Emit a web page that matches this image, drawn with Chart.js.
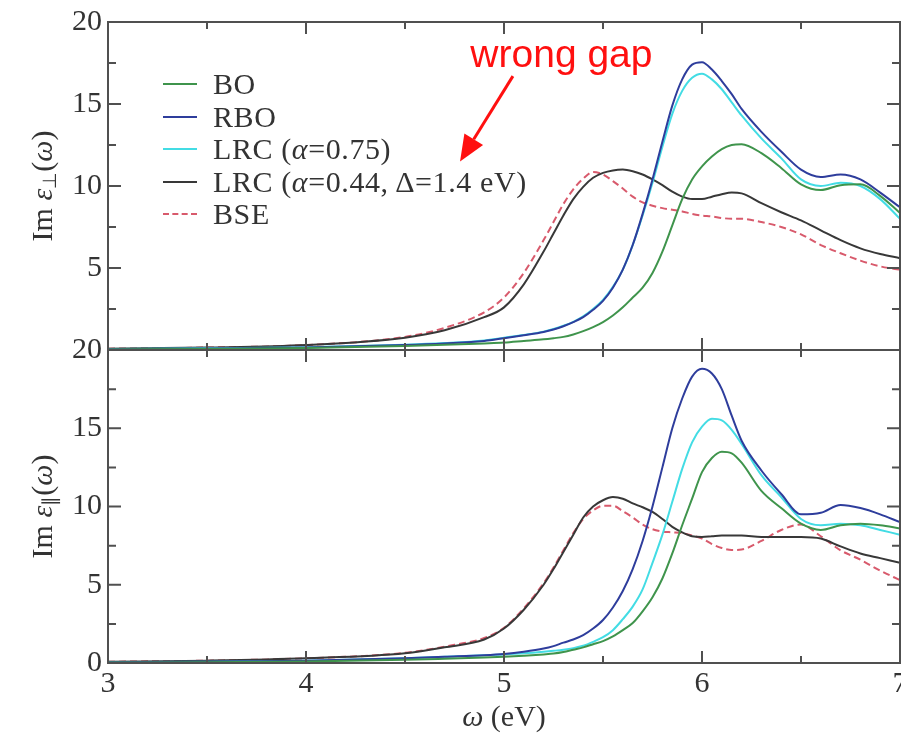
<!DOCTYPE html>
<html>
<head>
<meta charset="utf-8">
<script src="https://cdn.jsdelivr.net/npm/chart.js@4.4.0/dist/chart.umd.min.js"></script>
<style>
  html, body { margin: 0; padding: 0; background: #fff; }
  #wrap { position: relative; width: 901px; height: 736px; overflow: hidden;
          font-family: "Liberation Serif", "Times New Roman", serif; }
  canvas { position: absolute; left: 0; }
  #topChart { top: 0; z-index: 2; }
  #botChart { top: 322px; z-index: 1; }
  #legend { position: absolute; left: 163px; top: 68px; z-index: 3; color: #333;
            font-size: 30px; line-height: 32px; letter-spacing: 0.6px; }
  #legend .row { display: flex; align-items: center; height: 32.5px; white-space: nowrap; }
  #legend .swatch { width: 34px; height: 0; margin-right: 16px; border-top: 2px solid; }
</style>
</head>
<body>
<div id="wrap">
  <canvas id="topChart" width="901" height="351"></canvas>
  <canvas id="botChart" width="901" height="414"></canvas>
  <div id="legend"></div>
</div>
<script>
// photon energy grid (eV)
const omega = [3.0, 3.5, 4.0, 4.5, 4.7, 4.9, 5.0, 5.1,
  5.2, 5.25, 5.3, 5.35, 5.4, 5.45, 5.5, 5.55, 5.6, 5.65, 5.7, 5.75, 5.8, 5.85, 5.9, 5.95,
  6.0, 6.05, 6.1, 6.15, 6.2, 6.3, 6.4, 6.5, 6.6, 6.7, 6.8, 6.9, 7.0];

// Im eps perpendicular (top panel)
const perpBO   = [0.03, 0.06, 0.12, 0.25, 0.32, 0.4, 0.45, 0.55,
  0.65, 0.72, 0.8, 0.95, 1.15, 1.4, 1.7, 2.1, 2.6, 3.2, 3.8, 4.7, 6.0, 7.6, 9.2, 10.4,
  11.2, 11.8, 12.25, 12.5, 12.55, 12.0, 11.1, 10.1, 9.75, 10.05, 10.1, 9.4, 8.35];
const perpRBO  = [0.05, 0.08, 0.15, 0.3, 0.4, 0.55, 0.72, 0.9,
  1.1, 1.25, 1.45, 1.7, 2.0, 2.45, 3.0, 3.8, 4.9, 6.4, 8.3, 10.4, 12.7, 14.9, 16.5, 17.4,
  17.55, 17.1, 16.4, 15.6, 14.7, 13.3, 12.1, 11.0, 10.55, 10.7, 10.4, 9.6, 8.7];
const perpLRC1 = [0.06, 0.1, 0.17, 0.32, 0.42, 0.58, 0.75, 0.92,
  1.12, 1.28, 1.48, 1.72, 2.05, 2.5, 3.05, 3.85, 4.9, 6.4, 8.2, 10.2, 12.4, 14.4, 15.8, 16.6,
  16.85, 16.5, 15.9, 15.1, 14.3, 12.9, 11.7, 10.4, 10.0, 10.2, 10.0, 9.2, 8.0];
const perpLRC2 = [0.08, 0.15, 0.3, 0.75, 1.2, 2.0, 2.6, 4.0,
  6.0, 7.1, 8.2, 9.2, 9.95, 10.5, 10.8, 10.95, 11.0, 10.9, 10.7, 10.4, 10.05, 9.65, 9.35, 9.2,
  9.2, 9.35, 9.5, 9.6, 9.55, 8.95, 8.4, 7.9, 7.3, 6.7, 6.2, 5.85, 5.6];
const perpBSE  = [0.08, 0.15, 0.3, 0.8, 1.35, 2.3, 3.2, 4.7,
  6.7, 7.8, 8.9, 9.8, 10.45, 10.85, 10.7, 10.3, 9.85, 9.35, 9.0, 8.8, 8.65, 8.55, 8.45, 8.3,
  8.2, 8.15, 8.05, 8.0, 8.0, 7.8, 7.5, 7.05, 6.4, 5.9, 5.45, 5.1, 4.9];

// Im eps parallel (bottom panel)
const parBO   = [0.03, 0.05, 0.1, 0.2, 0.27, 0.35, 0.4, 0.47,
  0.55, 0.6, 0.7, 0.85, 1.0, 1.2, 1.4, 1.7, 2.1, 2.55, 3.3, 4.2, 5.4, 7.0, 8.8, 10.5,
  12.2, 13.1, 13.5, 13.4, 12.8, 11.0, 9.9, 8.9, 8.5, 8.8, 8.9, 8.8, 8.6];
const parRBO  = [0.05, 0.08, 0.15, 0.3, 0.4, 0.5, 0.58, 0.72,
  0.92, 1.08, 1.3, 1.5, 1.78, 2.2, 2.75, 3.55, 4.6, 6.0, 7.8, 10.0, 12.5, 15.0, 16.9, 18.3,
  18.8, 18.5, 17.5, 15.8, 14.2, 12.3, 10.8, 9.5, 9.6, 10.1, 9.9, 9.5, 9.0];
const parLRC1 = [0.05, 0.08, 0.15, 0.3, 0.4, 0.5, 0.55, 0.62,
  0.72, 0.78, 0.85, 0.95, 1.1, 1.35, 1.65, 2.1, 2.8, 3.6, 4.7, 6.4, 8.2, 10.3, 12.4, 14.1,
  15.1, 15.6, 15.5, 14.9, 14.0, 12.0, 10.6, 9.2, 8.8, 8.9, 8.8, 8.5, 8.2];
const parLRC2 = [0.08, 0.15, 0.3, 0.62, 1.0, 1.5, 2.2, 3.4,
  5.0, 6.0, 7.1, 8.2, 9.3, 10.0, 10.4, 10.6, 10.5, 10.2, 9.95, 9.65, 9.2, 8.7, 8.35, 8.1,
  8.05, 8.1, 8.15, 8.15, 8.15, 8.05, 8.05, 8.05, 7.95, 7.45, 7.0, 6.7, 6.4];
const parBSE  = [0.08, 0.15, 0.3, 0.65, 1.05, 1.6, 2.25, 3.5,
  5.1, 6.1, 7.2, 8.3, 9.2, 9.75, 10.05, 10.05, 9.7, 9.3, 8.85, 8.55, 8.4, 8.35, 8.3, 8.15,
  7.95, 7.6, 7.35, 7.22, 7.25, 7.8, 8.5, 8.85, 8.1, 7.2, 6.6, 5.9, 5.3];

const seriesNames  = ['BO', 'RBO', 'LRC (α=0.75)', 'LRC (α=0.44, Δ=1.4 eV)', 'BSE'];
const seriesHtml   = ['BO', 'RBO', 'LRC (<i>α</i>=0.75)', 'LRC (<i>α</i>=0.44, Δ=1.4 eV)', 'BSE'];
const seriesColors = ['#3f944c', '#2e3d9c', '#43dce4', '#383838', '#d85a6c'];
const seriesDashed = [false, false, false, false, true];

const xTicks = [3, 4, 5, 6, 7];
const yTicks = [0, 5, 10, 15, 20];

const serif = '"Liberation Serif", "Times New Roman", serif';
const tickFont = { family: serif, size: 30 };
const ink = '#333';

function makeDatasets(arrays) {
  return arrays.map((arr, i) => ({
    label: seriesNames[i],
    data: omega.map((w, j) => ({ x: w, y: arr[j] })),
    borderColor: seriesColors[i],
    borderWidth: 2,
    borderDash: seriesDashed[i] ? [7, 4] : [],
    pointRadius: 0,
    fill: false,
    cubicInterpolationMode: 'monotone'
  }));
}

// box frame with inward ticks on all four sides
const framePlugin = {
  id: 'frame',
  afterDraw(chart) {
    const { ctx, chartArea: a, scales: { x, y } } = chart;
    ctx.save();
    ctx.strokeStyle = '#505050';
    ctx.lineWidth = 2;
    ctx.strokeRect(a.left, a.top, a.right - a.left, a.bottom - a.top);
    ctx.beginPath();
    for (let v = xTicks[0]; v <= xTicks[xTicks.length - 1] + 1e-6; v += 0.5) {
      const px = x.getPixelForValue(v);
      const len = Number.isInteger(v) ? 12 : 7;
      ctx.moveTo(px, a.bottom); ctx.lineTo(px, a.bottom - len);
      ctx.moveTo(px, a.top); ctx.lineTo(px, a.top + len);
    }
    for (let v = 0; v <= 20 + 1e-6; v += 2.5) {
      const py = y.getPixelForValue(v);
      const len = v % 5 === 0 ? 13 : 8;
      ctx.moveTo(a.left, py); ctx.lineTo(a.left + len, py);
      ctx.moveTo(a.right, py); ctx.lineTo(a.right - len, py);
    }
    ctx.stroke();
    ctx.restore();
  }
};

// rich text helper: pieces drawn one after another, centred on (0,0)
function drawPieces(ctx, pieces, size) {
  const fontFor = p => (p.italic ? 'italic ' : '') + (p.sub ? size * 0.62 : size) + 'px ' + serif;
  let total = 0;
  pieces.forEach(p => { ctx.font = fontFor(p); total += ctx.measureText(p.t).width; });
  let cx = -total / 2;
  ctx.textBaseline = 'alphabetic';
  ctx.textAlign = 'left';
  pieces.forEach(p => {
    ctx.font = fontFor(p);
    ctx.fillText(p.t, cx, p.sub ? size * 0.45 : size * 0.33);
    cx += ctx.measureText(p.t).width;
  });
}

function yTitlePlugin(sub) {
  return {
    id: 'ytitle',
    afterDraw(chart) {
      const { ctx, chartArea: a } = chart;
      ctx.save();
      ctx.fillStyle = ink;
      ctx.translate(42, (a.top + a.bottom) / 2);
      ctx.rotate(-Math.PI / 2);
      drawPieces(ctx, [{ t: 'Im ' }, { t: 'ε', italic: true }, { t: sub, sub: true },
                       { t: '(' }, { t: 'ω', italic: true }, { t: ')' }], 30);
      ctx.restore();
    }
  };
}

const xTitlePlugin = {
  id: 'xtitle',
  afterDraw(chart) {
    const { ctx, chartArea: a } = chart;
    ctx.save();
    ctx.fillStyle = ink;
    ctx.translate((a.left + a.right) / 2, a.bottom + 53);
    drawPieces(ctx, [{ t: 'ω', italic: true }, { t: ' (eV)' }], 30);
    ctx.restore();
  }
};

// red "wrong gap" note with arrow, placed in data units
const noteText = 'wrong gap';
const notePos = { x: 5.29, y: 17.9 };
const arrowFrom = { x: 5.045, y: 16.7 };
const arrowTo = { x: 4.778, y: 11.5 };
const notePlugin = {
  id: 'note',
  afterDraw(chart) {
    const { ctx, scales: { x, y } } = chart;
    ctx.save();
    ctx.fillStyle = '#ff1010';
    ctx.strokeStyle = '#ff1010';
    ctx.font = '39px "Liberation Sans", Arial, sans-serif';
    ctx.textAlign = 'center';
    ctx.textBaseline = 'middle';
    ctx.fillText(noteText, x.getPixelForValue(notePos.x), y.getPixelForValue(notePos.y));
    const x0 = x.getPixelForValue(arrowFrom.x), y0 = y.getPixelForValue(arrowFrom.y);
    const x1 = x.getPixelForValue(arrowTo.x), y1 = y.getPixelForValue(arrowTo.y);
    const ang = Math.atan2(y1 - y0, x1 - x0);
    const headLen = 26, headW = 11;
    const bx = x1 - headLen * Math.cos(ang), by = y1 - headLen * Math.sin(ang);
    ctx.lineWidth = 3;
    ctx.beginPath(); ctx.moveTo(x0, y0); ctx.lineTo(bx, by); ctx.stroke();
    ctx.beginPath();
    ctx.moveTo(x1, y1);
    ctx.lineTo(bx + headW * Math.sin(ang), by - headW * Math.cos(ang));
    ctx.lineTo(bx - headW * Math.sin(ang), by + headW * Math.cos(ang));
    ctx.closePath(); ctx.fill();
    ctx.restore();
  }
};

function yScale(hideZero) {
  return {
    min: 0, max: 20,
    afterFit(s) { s.width = 108; s.paddingTop = 0; s.paddingBottom = 0; },
    afterBuildTicks(s) { s.ticks = yTicks.map(v => ({ value: v })); },
    grid: { display: false, drawTicks: false },
    border: { display: false },
    ticks: {
      padding: 6, color: ink, font: tickFont,
      callback: v => (hideZero && v === 0) ? '' : v
    }
  };
}

function xScale(show) {
  return {
    type: 'linear', min: 3, max: 7, display: show,
    afterBuildTicks(s) { s.ticks = xTicks.map(v => ({ value: v })); },
    afterFit(s) { if (show) s.height = 73; s.paddingLeft = 0; s.paddingRight = 0; },
    grid: { display: false, drawTicks: false },
    border: { display: false },
    ticks: { padding: 3, color: ink, font: tickFont, maxRotation: 0, autoSkip: false }
  };
}

const baseOptions = (padding, hideZero, showX) => ({
  responsive: false,
  animation: false,
  devicePixelRatio: 1,
  layout: { padding },
  plugins: { legend: { display: false }, tooltip: { enabled: false } },
  scales: { x: xScale(showX), y: yScale(hideZero) }
});

new Chart(document.getElementById('topChart'), {
  type: 'line',
  data: { datasets: makeDatasets([perpBO, perpRBO, perpLRC1, perpLRC2, perpBSE]) },
  options: baseOptions({ top: 22, right: 1, bottom: 1, left: 0 }, true, false),
  plugins: [framePlugin, yTitlePlugin('⊥'), notePlugin]
});

new Chart(document.getElementById('botChart'), {
  type: 'line',
  data: { datasets: makeDatasets([parBO, parRBO, parLRC1, parLRC2, parBSE]) },
  options: baseOptions({ top: 28, right: 1, bottom: 0, left: 0 }, false, true),
  plugins: [framePlugin, yTitlePlugin('∥'), xTitlePlugin]
});

// legend inside the top panel
const legend = document.getElementById('legend');
seriesNames.forEach((name, i) => {
  const row = document.createElement('div');
  row.className = 'row';
  const sw = document.createElement('span');
  sw.className = 'swatch';
  sw.style.borderTopColor = seriesColors[i];
  if (seriesDashed[i]) sw.style.borderTopStyle = 'dashed';
  const label = document.createElement('span');
  label.innerHTML = seriesHtml[i];
  row.appendChild(sw);
  row.appendChild(label);
  legend.appendChild(row);
});
</script>
</body>
</html>
